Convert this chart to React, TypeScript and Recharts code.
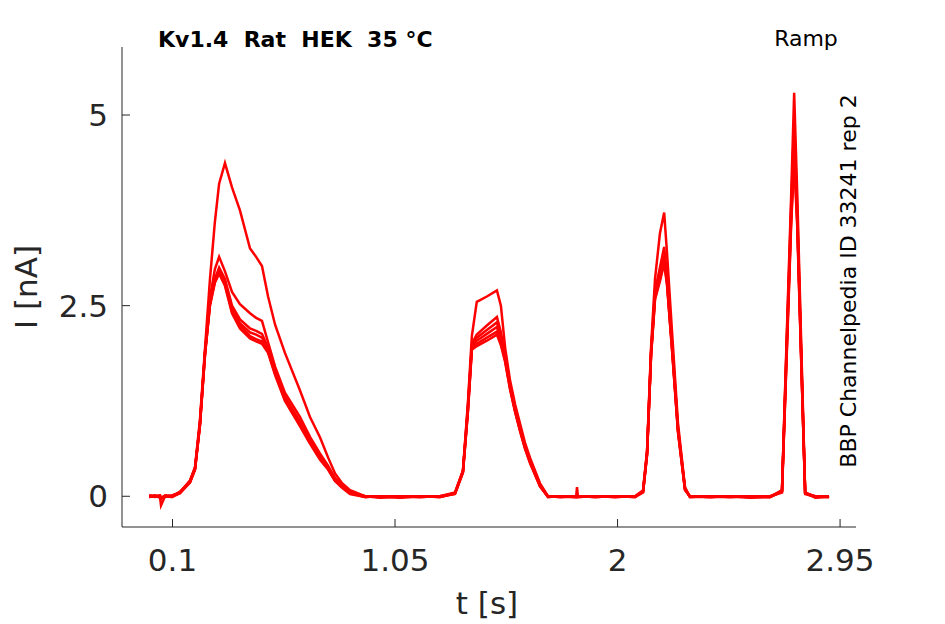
import { LineChart, Line, XAxis, YAxis } from "recharts";

// sample times [s], shared by all six sweeps
const time = [
  0.0, 0.025, 0.047, 0.051, 0.068, 0.098, 0.132, 0.175, 0.196, 0.217, 0.239, 0.26,
  0.281, 0.299, 0.324, 0.354, 0.388, 0.431, 0.457, 0.482, 0.508, 0.538, 0.58, 0.644,
  0.687, 0.73, 0.764, 0.794, 0.824, 0.858, 0.922, 0.986, 1.072, 1.157, 1.242, 1.306,
  1.34, 1.361, 1.378, 1.399, 1.442, 1.485, 1.502, 1.52, 1.541, 1.563, 1.584, 1.605,
  1.627, 1.669, 1.703, 1.755, 1.823, 1.827, 1.831, 1.904, 1.989, 2.075, 2.109, 2.126,
  2.143, 2.16, 2.181, 2.199, 2.211, 2.233, 2.258, 2.288, 2.309, 2.395, 2.48, 2.566,
  2.651, 2.702, 2.724, 2.741, 2.754, 2.767, 2.784, 2.801, 2.844, 2.903,
];

// current [nA], one array per sweep
const sweep1 = [
  0.0, 0.01, -0.02, -0.12, 0.0, -0.01, 0.05, 0.21, 0.38,
  1.0, 1.95, 2.85, 3.6, 4.1,
  4.37, 4.05, 3.75, 3.25, 3.14, 3.02, 2.62, 2.25, 1.88,
  1.39, 1.04, 0.77, 0.51, 0.3, 0.17, 0.08,
  0.0, -0.02, -0.01, -0.01, 0.0, 0.05,
  0.34, 1.22, 2.1, 2.55, 2.62, 2.7,
  2.5, 1.95, 1.52, 1.2, 0.95, 0.7, 0.5, 0.17, 0.0,
  -0.01, -0.01, 0.12, -0.01, 0.0, -0.01, 0.0,
  0.08, 0.6, 1.95, 2.85, 3.45, 3.72, 3.2, 2.14, 0.96, 0.12, -0.01,
  -0.01, 0.0, -0.02, -0.01,
  0.08, 2.28, 3.92, 5.29, 3.98, 2.02, 0.05, -0.02, -0.01,
];
const sweep2 = [
  0.01, 0.0, -0.01, -0.03, 0.01, 0.0, 0.06, 0.2, 0.37,
  0.95, 1.9, 2.6, 2.98, 3.14,
  2.95, 2.68, 2.52, 2.4, 2.34, 2.3, 2.02, 1.7, 1.36,
  1.04, 0.78, 0.56, 0.4, 0.24, 0.14, 0.05,
  -0.01, 0.0, -0.02, 0.0, -0.01, 0.04,
  0.33, 1.18, 2.0, 2.12, 2.24, 2.35,
  2.15, 1.85, 1.47, 1.15, 0.9, 0.66, 0.47, 0.15, -0.01,
  0.0, -0.01, -0.01, 0.0, -0.01, 0.0, -0.01,
  0.07, 0.58, 1.9, 2.7, 3.0, 3.27, 2.9, 2.0, 0.9, 0.1, 0.0,
  -0.01, -0.01, 0.0, -0.01,
  0.07, 2.2, 3.8, 4.9, 3.8, 1.9, 0.05, -0.01, 0.0,
];
const sweep3 = [
  -0.01, 0.01, 0.0, -0.02, -0.01, 0.01, 0.05, 0.2, 0.36,
  0.95, 1.9, 2.55, 2.85, 3.0,
  2.85, 2.5, 2.32, 2.2, 2.17, 2.13, 1.95, 1.66, 1.31,
  0.98, 0.74, 0.52, 0.38, 0.22, 0.13, 0.05,
  0.0, -0.01, 0.0, -0.01, 0.0, 0.04,
  0.33, 1.15, 1.98, 2.08, 2.18, 2.28,
  2.1, 1.82, 1.45, 1.13, 0.88, 0.65, 0.46, 0.14, 0.0,
  -0.01, 0.0, 0.0, -0.01, 0.0, -0.01, 0.0,
  0.07, 0.57, 1.88, 2.65, 2.9, 3.15, 2.85, 1.96, 0.88, 0.1, -0.01,
  0.0, -0.01, -0.01, 0.0,
  0.07, 2.15, 3.7, 4.7, 3.7, 1.85, 0.04, 0.0, -0.01,
];
const sweep4 = [
  0.0, -0.01, 0.01, -0.03, 0.0, -0.01, 0.04, 0.19, 0.36,
  0.94, 1.88, 2.53, 2.83, 2.97,
  2.8, 2.45, 2.27, 2.15, 2.12, 2.08, 1.93, 1.63, 1.29,
  0.95, 0.72, 0.5, 0.37, 0.21, 0.12, 0.04,
  -0.01, 0.0, -0.01, 0.0, -0.01, 0.04,
  0.32, 1.13, 1.96, 2.04, 2.13, 2.22,
  2.06, 1.8, 1.43, 1.12, 0.87, 0.64, 0.45, 0.14, -0.01,
  0.0, -0.01, -0.01, 0.0, -0.01, 0.0, -0.01,
  0.06, 0.56, 1.86, 2.62, 2.88, 3.12, 2.82, 1.94, 0.86, 0.09, 0.0,
  -0.01, 0.0, -0.01, -0.01,
  0.06, 2.1, 3.65, 4.6, 3.65, 1.82, 0.04, -0.01, 0.0,
];
const sweep5 = [
  0.01, 0.0, -0.01, -0.02, 0.01, 0.0, 0.05, 0.19, 0.35,
  0.93, 1.87, 2.52, 2.82, 2.95,
  2.78, 2.42, 2.24, 2.1, 2.06, 2.03, 1.9, 1.61, 1.27,
  0.93, 0.7, 0.49, 0.36, 0.2, 0.12, 0.04,
  0.0, -0.01, 0.0, -0.01, 0.0, 0.03,
  0.32, 1.11, 1.94, 2.0, 2.08, 2.16,
  2.02, 1.78, 1.42, 1.11, 0.86, 0.63, 0.44, 0.13, 0.0,
  -0.01, 0.0, 0.0, -0.01, 0.0, -0.01, 0.0,
  0.06, 0.55, 1.85, 2.6, 2.85, 3.08, 2.8, 1.92, 0.85, 0.09, -0.01,
  0.0, -0.01, 0.0, -0.01,
  0.06, 2.05, 3.6, 4.5, 3.6, 1.8, 0.04, 0.0, -0.01,
];
const sweep6 = [
  -0.01, 0.0, 0.01, -0.03, 0.0, 0.01, 0.04, 0.18, 0.35,
  0.92, 1.86, 2.5, 2.8, 2.92,
  2.76, 2.4, 2.2, 2.07, 2.03, 2.0, 1.88, 1.59, 1.25,
  0.92, 0.69, 0.48, 0.35, 0.2, 0.11, 0.03,
  -0.01, 0.0, -0.01, 0.0, -0.01, 0.03,
  0.31, 1.1, 1.92, 1.97, 2.04, 2.12,
  1.98, 1.76, 1.4, 1.1, 0.85, 0.62, 0.43, 0.13, -0.01,
  0.0, -0.01, -0.01, 0.0, -0.01, 0.0, -0.01,
  0.05, 0.54, 1.84, 2.58, 2.82, 3.05, 2.78, 1.9, 0.84, 0.08, 0.0,
  -0.01, 0.0, -0.01, 0.0,
  0.05, 2.0, 3.55, 4.4, 3.55, 1.78, 0.03, -0.01, 0.0,
];

const sweeps = [sweep1, sweep2, sweep3, sweep4, sweep5, sweep6];
const xTicks = [0.1, 1.05, 2, 2.95];
const yTicks = [0, 2.5, 5];

const data = time.map((t, i) => {
  const row: Record<string, number> = { t };
  sweeps.forEach((s, k) => {
    row["s" + k] = s[i];
  });
  return row;
});

const font = "'DejaVu Sans', sans-serif";
const ink = "#262626";

export default function App() {
  return (
    <div style={{ position: "absolute", left: 0, top: 0, width: 945, height: 624 }}>
      <LineChart
        width={945}
        height={624}
        data={data}
        margin={{ top: 47, right: 89, left: 0, bottom: 0 }}
      >
        <XAxis
          dataKey="t"
          type="number"
          domain={[-0.1156, 3.018]}
          allowDataOverflow
          ticks={xTicks}
          tickFormatter={(v) => String(v)}
          height={97}
          tickSize={-8}
          tickMargin={30}
          stroke={ink}
          tick={{ fill: ink, fontSize: 31, fontFamily: font }}
        />
        <YAxis
          type="number"
          domain={[-0.403, 5.892]}
          allowDataOverflow
          ticks={yTicks}
          width={122}
          tickSize={-8}
          tickMargin={22}
          stroke={ink}
          tick={{ fill: ink, fontSize: 31, fontFamily: font }}
        />
        {sweeps.map((_, k) => (
          <Line
            key={k}
            dataKey={"s" + k}
            type="linear"
            stroke="#ff0000"
            strokeWidth={2.5}
            dot={false}
            isAnimationActive={false}
          />
        ))}
      </LineChart>
      <svg
        width={945}
        height={624}
        style={{ position: "absolute", left: 0, top: 0, pointerEvents: "none" }}
      >
        <text
          x={158}
          y={47}
          xmlSpace="preserve"
          style={{ whiteSpace: "pre" }}
          fontFamily={font}
          fontWeight="bold"
          fontSize={22}
          fill="#000"
        >
          {"Kv1.4  Rat  HEK  35 °C"}
        </text>
        <text x={806} y={46} textAnchor="middle" fontFamily={font} fontSize={22} fill="#000">
          Ramp
        </text>
        <text
          transform="translate(856,281) rotate(-90)"
          textAnchor="middle"
          fontFamily={font}
          fontSize={22}
          fill="#000"
        >
          BBP Channelpedia ID 33241 rep 2
        </text>
        <text x={487} y={614} textAnchor="middle" fontFamily={font} fontSize={31} fill={ink}>
          t [s]
        </text>
        <text
          transform="translate(37,287) rotate(-90)"
          textAnchor="middle"
          fontFamily={font}
          fontSize={31}
          fill={ink}
        >
          I [nA]
        </text>
      </svg>
    </div>
  );
}
